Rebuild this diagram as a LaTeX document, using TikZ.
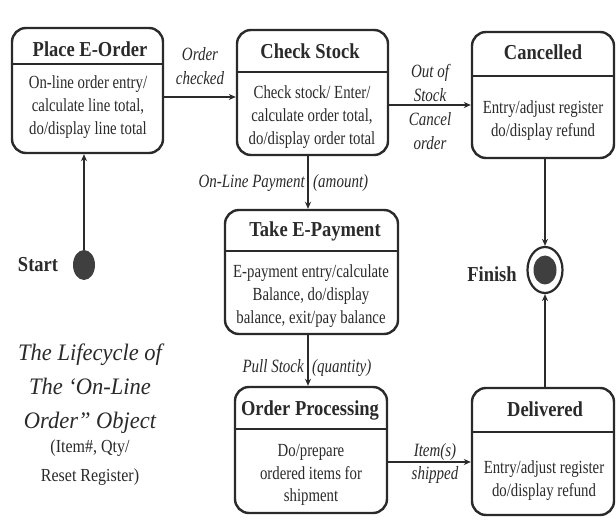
\documentclass[tikz,border=0pt]{standalone}
\usepackage{fontspec}
\setmainfont{Liberation Serif}
\usepackage{graphicx}
\usetikzlibrary{arrows.meta,shapes.geometric}
\definecolor{ink}{HTML}{2A2A2A}
\newcommand{\vtitle}[1]{\scalebox{1}[1.15]{\fontsize{18.5}{22}\selectfont\bfseries #1}}
\newcommand{\vbody}[1]{\scalebox{1}[1.25]{\fontsize{14.8}{18.4}\selectfont\begin{tabular}[t]{@{}c@{}}#1\end{tabular}}}
\newcommand{\vlab}[1]{\scalebox{1}[1.25]{\fontsize{15}{19}\selectfont\itshape\begin{tabular}[t]{@{}c@{}}#1\end{tabular}}}
\begin{document}
\begin{tikzpicture}[x=1pt,y=-1pt,
  statebox/.style={draw=ink, line width=2.4pt, rounded corners=14pt, inner sep=0pt},
  divider/.style={draw=ink, line width=2.2pt},
  txt/.style={anchor=base, inner sep=0pt, text=ink},
  conn/.style={draw=ink, line width=1.8pt, -{Stealth[length=7pt,width=6pt]}},
  dot/.style={ellipse, fill=ink!90, inner sep=0pt}]
\useasboundingbox[fill=white] (0,0) rectangle (616,521);
% states
\node[statebox, minimum width=151, minimum height=125] (place) at (87.5,90.5) {};
\node[statebox, minimum width=151, minimum height=125] (check) at (312.5,92.5) {};
\node[statebox, minimum width=142, minimum height=126] (cancelled) at (543,95) {};
\node[statebox, minimum width=173, minimum height=124] (take) at (311.5,272) {};
\node[statebox, minimum width=152, minimum height=126] (op) at (311,450) {};
\node[statebox, minimum width=142, minimum height=127] (delivered) at (543,451.5) {};
% dividers
\draw[divider] ([yshift=-37pt]place.north west) -- ([yshift=-37pt]place.north east);
\draw[divider] ([yshift=-43pt]check.north west) -- ([yshift=-43pt]check.north east);
\draw[divider] ([yshift=-45pt]cancelled.north west) -- ([yshift=-45pt]cancelled.north east);
\draw[divider] ([yshift=-42pt]take.north west) -- ([yshift=-42pt]take.north east);
\draw[divider] ([yshift=-43pt]op.north west) -- ([yshift=-43pt]op.north east);
\draw[divider] ([yshift=-45pt]delivered.north west) -- ([yshift=-45pt]delivered.north east);
% titles
\node[txt] (placeT) at (90,57) {\vtitle{Place E-Order}};
\node[txt] (checkT) at (310,59) {\vtitle{Check Stock}};
\node[txt] (cancT) at (543,60) {\vtitle{Cancelled}};
\node[txt] (takeT) at (315,237) {\vtitle{Take E-Payment}};
\node[txt] (opT) at (310,415) {\vtitle{Order Processing}};
\node[txt] (delT) at (545,417) {\vtitle{Delivered}};
% bodies
\node[txt] (placeB) at (88,89) {\vbody{On-line order entry/\\calculate line total,\\do/display line total}};
\node[txt] (checkB) at (312,99) {\vbody{Check stock/ Enter/\\calculate order total,\\do/display order total}};
\node[txt] (cancB) at (543,114) {\vbody{Entry/adjust register\\do/display refund}};
\node[txt] (takeB) at (311,278) {\vbody{E-payment entry/calculate\\Balance, do/display\\balance, exit/pay balance}};
\node[txt] (opB) at (311,456) {\vbody{Do/prepare\\ordered items for\\shipment}};
\node[txt] (delB) at (544,473) {\vbody{Entry/adjust register\\do/display refund}};
% pseudo states
\node[dot, minimum width=22, minimum height=30] (start) at (84,265) {};
\node[txt] (startT) at (38,272) {\vtitle{Start}};
\node[ellipse, draw=ink, line width=2.2pt, minimum width=35, minimum height=46, inner sep=0pt] (finish) at (545,270) {};
\node[dot, minimum width=23, minimum height=29] (finishdot) at (finish.center) {};
\node[txt] (finishT) at (492,282) {\vtitle{Finish}};
% helper coordinates
\coordinate (y1) at (0,97);
\coordinate (y2) at (0,105);
\coordinate (y3) at (0,462);
\coordinate (x1) at (308,0);
% connectors
\draw[conn] (start.north) -- (place.south -| start);
\draw[conn] (place.east |- y1) -- (check.west |- y1);
\draw[conn] (check.east |- y2) -- (cancelled.west |- y2);
\draw[conn] (check.south -| x1) -- (take.north -| x1);
\draw[conn] (take.south -| x1) -- (op.north -| x1);
\draw[conn] (op.east |- y3) -- (delivered.west |- y3);
\draw[conn, line width=1.5pt] (cancelled.south -| finish) -- (finish.north);
\draw[conn, line width=1.5pt] (delivered.north -| finish) -- (finish.south);
% connector labels
\node[txt] (l1) at (200,61) {\vlab{Order\\checked}};
\node[txt] (l2) at (430,78) {\vlab{Out of\\Stock\\Cancel\\order}};
\node[txt] (l3) at (435,456) {\vlab{Item(s)\\shipped}};
\node[txt, anchor=base east] (l4) at (305,188) {\vlab{On-Line Payment}};
\node[txt, anchor=base west] (l5) at (313,188) {\vlab{(amount)}};
\node[txt, anchor=base east] (l6) at (304,373) {\vlab{Pull Stock}};
\node[txt, anchor=base west] (l7) at (312,373) {\vlab{(quantity)}};
% caption
\node[txt] (cap1) at (90,360) {\scalebox{1}[1.05]{\fontsize{22.5}{32.5}\selectfont\itshape\begin{tabular}[t]{@{}c@{}}The Lifecycle of\\The ‘On-Line\\Order” Object\end{tabular}}};
\node[txt] (cap2) at (90,452) {\scalebox{1}[1.15]{\fontsize{16}{26}\selectfont\begin{tabular}[t]{@{}c@{}}(Item\#, Qty/\\Reset Register)\end{tabular}}};
\end{tikzpicture}
\end{document}
